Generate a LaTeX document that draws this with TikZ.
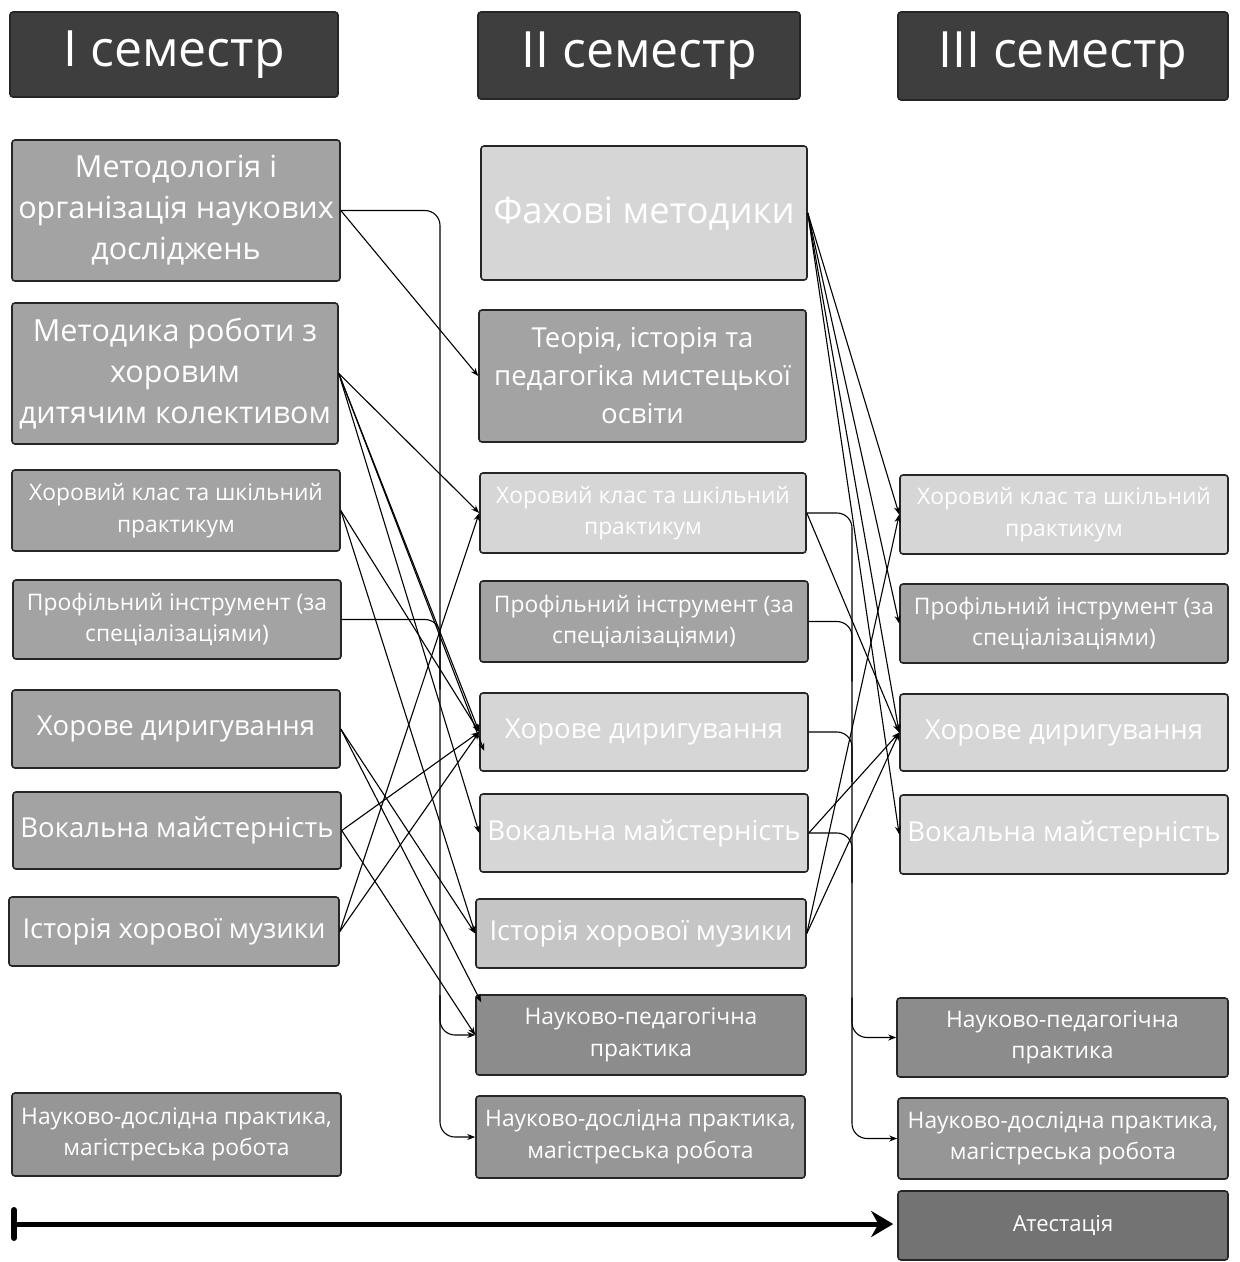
\documentclass[tikz,border=0pt]{standalone}
\usepackage{fontspec}
\setmainfont{Open Sans}
\usetikzlibrary{arrows.meta,calc}
\definecolor{hdrgray}{RGB}{62,62,62}
\definecolor{midgray}{RGB}{163,163,163}
\definecolor{ltgray}{RGB}{214,214,214}
\definecolor{dkgray}{RGB}{140,140,140}
\definecolor{atgray}{RGB}{115,115,115}
\begin{document}
\begin{tikzpicture}[x=1pt,y=-1pt,
  box/.style={draw=black!85, line width=1.6pt, rounded corners=3pt, text=white, align=center, inner sep=0pt},
  hdr/.style={box, fill=hdrgray, font=\fontsize{50}{54}\selectfont},
  mid/.style={box, fill=midgray},
  lt/.style={box, fill=ltgray},
  dk/.style={box, fill=dkgray},
  big/.style={font=\fontsize{30.5}{41}\selectfont},
  med/.style={font=\fontsize{27.5}{30}\selectfont},
  sml/.style={font=\fontsize{22.8}{31.5}\selectfont},
  conn/.style={line width=1.1pt, -{Stealth[length=8pt,width=6pt]}},
  buslink/.style={line width=1.1pt, rounded corners=15pt}]
\useasboundingbox (0,0) rectangle (1240,1262);
\fill[white] (0,0) rectangle (1240,1262);
% headers
\node[hdr, minimum width=328, minimum height=85] (h1) at (174,54.5) {I семестр};
\node[hdr, minimum width=322, minimum height=87] (h2) at (639,55.5) {II семестр};
\node[hdr, minimum width=330, minimum height=88] (h3) at (1063,56) {III семестр};
% column I
\node[mid, big, minimum width=328, minimum height=141] (a1) at (176,210.5) {Методологія і\\організація наукових\\досліджень};
\node[mid, big, minimum width=326, minimum height=141] (a2) at (175,373.5) {Методика роботи з\\хоровим\\дитячим колективом};
\node[mid, sml, minimum width=328, minimum height=81] (a3) at (176,510.5) {Хоровий клас та шкільний\\практикум};
\node[mid, sml, minimum width=328, minimum height=79] (a4) at (177,619.5) {Профільний інструмент (за\\спеціалізаціями)};
\node[mid, med, minimum width=328, minimum height=78] (a5) at (176,729) {Хорове диригування};
\node[mid, med, minimum width=328, minimum height=77] (a6) at (177,830.5) {Вокальна майстерність};
\node[mid, med, minimum width=330, minimum height=69] (a7) at (174,931.5) {Історія хорової музики};
\node[box, fill=midgray!92!black, sml, minimum width=329, minimum height=83] (a8) at (176.5,1134.5) {Науково-дослідна практика,\\магістреська робота};
% column II
\node[lt, font=\fontsize{36.5}{40}\selectfont, minimum width=326, minimum height=134] (b1) at (644,213) {Фахові методики};
\node[mid, font=\fontsize{27.5}{38}\selectfont, minimum width=327, minimum height=132] (b2) at (642.5,376) {Теорія, історія та\\педагогіка мистецької\\освіти};
\node[lt, sml, minimum width=326, minimum height=80] (b3) at (643,513) {Хоровий клас та шкільний\\практикум};
\node[mid, sml, minimum width=328, minimum height=81] (b4) at (644,621.5) {Профільний інструмент (за\\спеціалізаціями)};
\node[lt, med, minimum width=328, minimum height=78] (b5) at (644,732) {Хорове диригування};
\node[lt, med, minimum width=328, minimum height=78] (b6) at (644,833) {Вокальна майстерність};
\node[lt, med, fill=ltgray!92!black, minimum width=330, minimum height=69] (b7) at (641,933.5) {Історія хорової музики};
\node[dk, sml, minimum width=330, minimum height=80] (b8) at (641,1035) {Науково-педагогічна\\практика};
\node[box, fill=midgray!92!black, sml, minimum width=329, minimum height=82] (b9) at (640.5,1137) {Науково-дослідна практика,\\магістреська робота};
% column III
\node[lt, sml, minimum width=328, minimum height=79] (c1) at (1064,514.5) {Хоровий клас та шкільний\\практикум};
\node[mid, sml, minimum width=328, minimum height=79] (c2) at (1064,623.5) {Профільний інструмент (за\\спеціалізаціями)};
\node[lt, med, minimum width=328, minimum height=77] (c3) at (1064,732.5) {Хорове диригування};
\node[lt, med, minimum width=328, minimum height=79] (c4) at (1064,834.5) {Вокальна майстерність};
\node[dk, sml, minimum width=331, minimum height=79] (c5) at (1062.5,1037.5) {Науково-педагогічна\\практика};
\node[box, fill=midgray!92!black, sml, minimum width=330, minimum height=81] (c6) at (1063,1138.5) {Науково-дослідна практика,\\магістреська робота};
\node[box, fill=atgray, font=\fontsize{22}{26}\selectfont, minimum width=330, minimum height=69] (c7) at (1063,1225.5) {Атестація};
% buses
\coordinate (busL) at (440,0);
\coordinate (busR) at (852,0);
\coordinate (jL) at ($(busL|-b8.west)+(0,-40)$);
\coordinate (jR) at ($(busR|-c5.west)+(0,-40)$);
\coordinate (b8c) at ($(b8.north west)+(6,8)$);
\coordinate (b5lo) at ($(b5.west)+(5,19)$);
% column I -> II
\draw[conn, rounded corners=15pt] (a1.east) -- (busL|-a1.east) -- (busL|-b9.west) -- (b9.west);
\draw[conn, rounded corners=15pt] (jL) -- (busL|-b8.west) -- (b8.west);
\draw[conn] (a1.east) -- (b2.west);
\draw[conn] (a2.east) -- (b3.west);
\draw[conn] (a2.east) -- (b5.west);
\draw[conn] (a2.east) -- (b5lo);
\draw[conn] (a2.east) -- (b6.west);
\draw[conn] (a3.east) -- (b5.west);
\draw[conn] (a3.east) -- (b7.west);
\draw[buslink] (a4.east) -- (busL|-a4.east) -- ($(busL|-a4.east)+(0,70)$);
\draw[conn] (a5.east) -- (b7.west);
\draw[conn] (a5.east) -- (b8c);
\draw[conn] (a6.east) -- (b5.west);
\draw[conn] (a6.east) -- (b8.west);
\draw[conn] (a7.east) -- (b3.west);
\draw[conn] (a7.east) -- (b5.west);
% column II -> III
\draw[conn] (b1.east) -- (c1.west);
\draw[conn] (b1.east) -- (c2.west);
\draw[conn] (b1.east) -- (c3.west);
\draw[conn] (b1.east) -- (c4.west);
\draw[conn, rounded corners=15pt] (b3.east) -- (busR|-b3.east) -- (busR|-c6.west) -- (c6.west);
\draw[conn, rounded corners=15pt] (jR) -- (busR|-c5.west) -- (c5.west);
\draw[conn] (b3.east) -- (c3.west);
\draw[buslink] (b4.east) -- (busR|-b4.east) -- ($(busR|-b4.east)+(0,60)$);
\draw[buslink] (b5.east) -- (busR|-b5.east) -- ($(busR|-b5.east)+(0,50)$);
\draw[buslink] (b6.east) -- (busR|-b6.east) -- ($(busR|-b6.east)+(0,50)$);
\draw[conn] (b6.east) -- (c3.west);
\draw[conn] (b7.east) -- (c1.west);
\draw[conn] (b7.east) -- (c3.west);
% timeline
\coordinate (tl0) at (14,1224);
\coordinate (tlA) at (14,1210);
\coordinate (tlB) at (14,1238);
\draw[line width=6pt, line cap=round] (tlA) -- (tlB);
\draw[line width=5pt, -{Stealth[length=22pt,width=26pt]}] (tl0) -- ([xshift=-4pt]c7.west|-tl0);
\end{tikzpicture}
\end{document}
